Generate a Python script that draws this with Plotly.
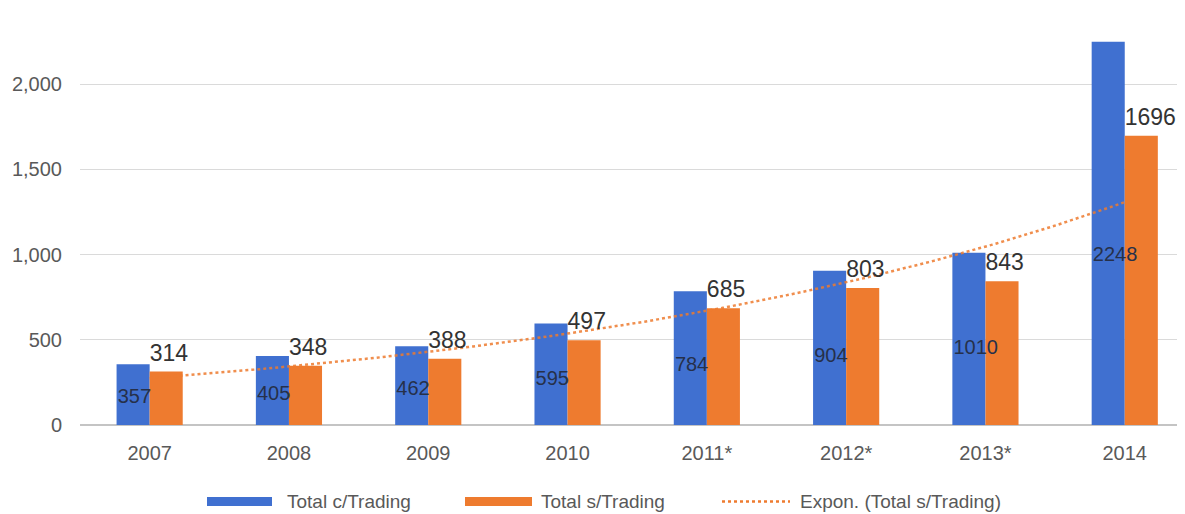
import numpy as np
import plotly.graph_objects as go

# ---- data ----
years = ["2007", "2008", "2009", "2010", "2011*", "2012*", "2013*", "2014"]
total_c_trading = [357, 405, 462, 595, 784, 904, 1010, 2248]
total_s_trading = [314, 348, 388, 497, 685, 803, 843, 1696]
y_ticks = [0, 500, 1000, 1500, 2000]
y_tick_labels = ["0", "500", "1,000", "1,500", "2,000"]

# ---- style ----
BLUE = "#4070D0"
ORANGE = "#EE7B2F"
FONT = "Liberation Sans, Arial, sans-serif"
OFF = 8                      # page body margin of the html page
W, H = 1185 - OFF, 514 - OFF
ML, MR, MT, MB = 80 - OFF, 0, 0, 89
BARGAP = 0.525
bar_w = (1 - BARGAP) / 2  # width of one bar in category units
Y_TOP = (425 - OFF) / 0.1705
LABEL_LIFT = 30           # small gap between orange bar and its label (data units)

x = np.arange(len(years))

# exponential trendline (least-squares fit on log values, as Excel does)
b, ln_a = np.polyfit(x + 1, np.log(total_s_trading), 1)
xt = np.linspace(0, len(years) - 1, 200)
yt = np.exp(ln_a) * np.exp(b * (xt + 1))

fig = go.Figure()
fig.add_trace(go.Bar(x=x, y=total_c_trading, name="Total c/Trading",
                     marker=dict(color=BLUE, line=dict(width=0)), offsetgroup="c"))
fig.add_trace(go.Bar(x=x, y=total_s_trading, name="Total s/Trading",
                     marker=dict(color=ORANGE, line=dict(width=0)), offsetgroup="s"))
fig.add_trace(go.Scatter(x=xt, y=yt, mode="lines", name="Expon. (Total s/Trading)",
                         line=dict(color=ORANGE, width=2.5, dash="dot"), opacity=0.85))

# data labels: blue inside bar (left aligned), orange above bar
fig.add_trace(go.Scatter(x=x - bar_w + 0.008, y=[v * 0.44 for v in total_c_trading], mode="text",
                         text=[str(v) for v in total_c_trading], textposition="middle right",
                         textfont=dict(family=FONT, size=20, color="#26304a"),
                         showlegend=False, hoverinfo="skip"))
fig.add_trace(go.Scatter(x=x, y=[v + LABEL_LIFT for v in total_s_trading], mode="text",
                         text=[str(v) for v in total_s_trading], textposition="top right",
                         textfont=dict(family=FONT, size=23, color="#333333"),
                         showlegend=False, hoverinfo="skip"))

plot_w = W - ML - MR
cat_px = 139.3
x_hi = -0.5 + plot_w / cat_px

fig.update_layout(
    width=W, height=H,
    margin=dict(l=ML, r=MR, t=MT, b=MB, pad=0),
    paper_bgcolor="white", plot_bgcolor="white",
    barmode="group", bargap=BARGAP, bargroupgap=0,
    showlegend=False,
    font=dict(family=FONT, size=20, color="#595959"),
    xaxis=dict(range=[-0.5, x_hi], tickmode="array", tickvals=list(x), ticktext=years,
               showgrid=False, zeroline=False, showline=False, ticks="",
               ticklabelstandoff=14, tickfont=dict(size=20, color="#595959")),
    yaxis=dict(range=[0, Y_TOP], tickmode="array", tickvals=y_ticks, ticktext=y_tick_labels,
               showgrid=True, gridcolor="#dadada", gridwidth=1,
               zeroline=True, zerolinecolor="#c4c4c4", zerolinewidth=2,
               showline=False, ticks="", ticklabelstandoff=17,
               tickfont=dict(size=20, color="#595959")),
)

# ---- custom legend (page-pixel positions converted to paper coords) ----
def px(xp):
    return (xp - OFF - ML) / plot_w

def py(yp):
    return (H - MB - (yp - OFF)) / (H - MT - MB)

leg_y = 501.5
fig.add_shape(type="rect", xref="paper", yref="paper", x0=px(207), x1=px(272),
              y0=py(506), y1=py(497), fillcolor=BLUE, line=dict(width=0))
fig.add_shape(type="rect", xref="paper", yref="paper", x0=px(465), x1=px(532),
              y0=py(506), y1=py(497), fillcolor=ORANGE, line=dict(width=0))
fig.add_shape(type="line", xref="paper", yref="paper", x0=px(722), x1=px(790),
              y0=py(leg_y), y1=py(leg_y), line=dict(color=ORANGE, width=2.5, dash="dot"))
for xp, label in [(285, "Total c/Trading"), (539, "Total s/Trading"),
                  (798, "Expon. (Total s/Trading)")]:
    fig.add_annotation(xref="paper", yref="paper", x=px(xp), y=py(leg_y), text=label,
                       showarrow=False, xanchor="left", yanchor="middle",
                       font=dict(family=FONT, size=19, color="#595959"))

fig.write_html("out.html")
